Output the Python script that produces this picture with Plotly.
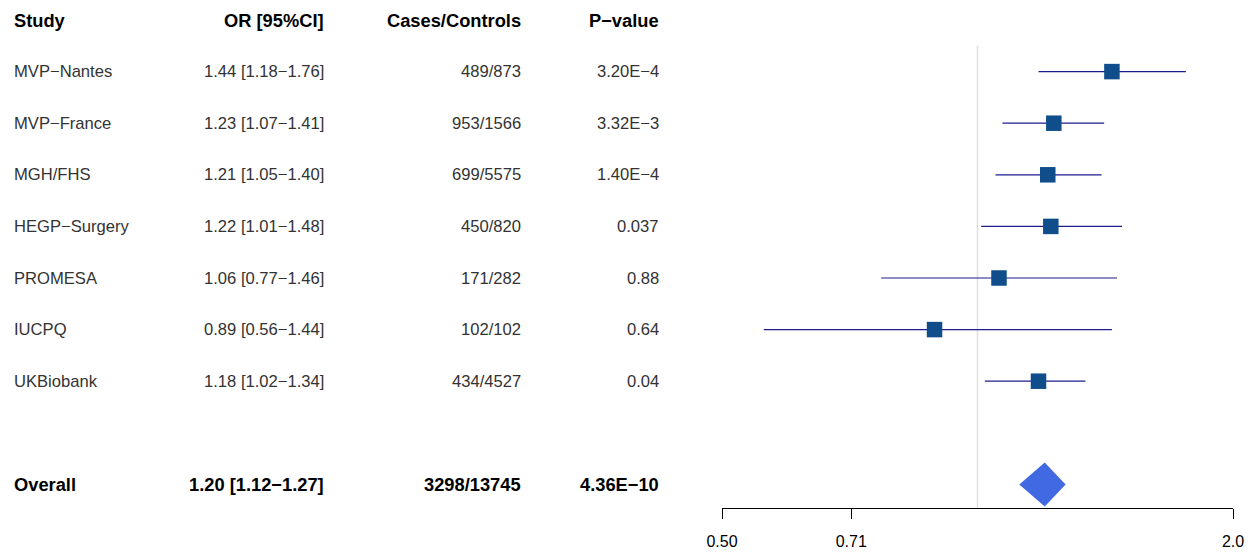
import math
import plotly.graph_objects as go

# ---- data -------------------------------------------------------------
studies = ["MVP\u2212Nantes", "MVP\u2212France", "MGH/FHS", "HEGP\u2212Surgery",
           "PROMESA", "IUCPQ", "UKBiobank"]
odds_ratio = [1.44, 1.23, 1.21, 1.22, 1.06, 0.89, 1.18]
ci_low = [1.18, 1.07, 1.05, 1.01, 0.77, 0.56, 1.02]
ci_high = [1.76, 1.41, 1.40, 1.48, 1.46, 1.44, 1.34]
cases = [489, 953, 699, 450, 171, 102, 434]
controls = [873, 1566, 5575, 820, 282, 102, 4527]
p_values = ["3.20E\u22124", "3.32E\u22123", "1.40E\u22124", "0.037", "0.88", "0.64", "0.04"]

overall_label = "Overall"
overall_or = 1.20
overall_low = 1.12
overall_high = 1.27
overall_cases = 3298
overall_controls = 13745
overall_p = "4.36E\u221210"

headers = ["Study", "OR [95%CI]", "Cases/Controls", "P\u2212value"]
tick_values = [0.50, 0.71, 2.0]
tick_labels = ["0.50", "0.71", "2.0"]

# ---- layout constants -------------------------------------------------
W, H = 1257, 553
FONT = "Liberation Sans, Arial, Helvetica, sans-serif"
TEXT_GREY = "#333333"
BODY_SIZE = 16.6
BOLD_SIZE = 18.3
ROW_PX = 51.6          # vertical distance between rows
TOP_PX = 20            # header row centre
AXIS_PX = 508          # x axis line position
study_rows = list(range(1, len(studies) + 1))
overall_row = len(studies) + 2

y_top = -TOP_PX / ROW_PX
y_bottom = (AXIS_PX - TOP_PX) / ROW_PX

# table column anchors (pixel positions across the page)
col_x = [14, 324, 521, 659]
col_anchor = ["left", "right", "right", "right"]


def fmt_minus(s):
    return s.replace("-", "\u2212")


fig = go.Figure()

# confidence interval lines
cx, cy = [], []
for k, lo, hi in zip(study_rows, ci_low, ci_high):
    cx += [lo, hi, None]
    cy += [k, k, None]
fig.add_trace(go.Scatter(x=cx, y=cy, mode="lines",
                         line=dict(color="#1c1c8c", width=1.2),
                         hoverinfo="skip", showlegend=False))

# point estimates
fig.add_trace(go.Scatter(x=odds_ratio, y=study_rows, mode="markers",
                         marker=dict(symbol="square", size=15.5, color="#104E8B",
                                     line=dict(width=0)),
                         showlegend=False))

# summary diamond
half_h = 22 / ROW_PX
fig.add_trace(go.Scatter(
    x=[overall_low, overall_or, overall_high, overall_or, overall_low],
    y=[overall_row, overall_row - half_h, overall_row, overall_row + half_h, overall_row],
    mode="lines", fill="toself", fillcolor="#4169E1",
    line=dict(color="#4169E1", width=0), hoverinfo="skip", showlegend=False))

# reference line at OR = 1
fig.add_shape(type="line", xref="x", yref="y", x0=1, x1=1,
              y0=0.5, y1=y_bottom, line=dict(color="#e0e0e0", width=1.5),
              layer="below")

# table text
annotations = []


def cell(j, k, text, color, bold=False):
    return dict(x=col_x[j] / W, y=k, xref="paper", yref="y",
                text=f"<b>{text}</b>" if bold else text,
                xanchor=col_anchor[j], yanchor="middle", showarrow=False,
                borderpad=0, borderwidth=0,
                font=dict(family=FONT, size=BOLD_SIZE if bold else BODY_SIZE,
                          color=color))


for j, h in enumerate(headers):
    annotations.append(cell(j, 0, h, "black", bold=True))

for k, name, o, lo, hi, ca, co, p in zip(study_rows, studies, odds_ratio, ci_low,
                                        ci_high, cases, controls, p_values):
    cells = [name,
             fmt_minus(f"{o:.2f} [{lo:.2f}-{hi:.2f}]"),
             f"{ca}/{co}",
             p]
    for j, c in enumerate(cells):
        annotations.append(cell(j, k, c, TEXT_GREY))

overall_cells = [overall_label,
                 fmt_minus(f"{overall_or:.2f} [{overall_low:.2f}-{overall_high:.2f}]"),
                 f"{overall_cases}/{overall_controls}",
                 overall_p]
for j, c in enumerate(overall_cells):
    annotations.append(cell(j, overall_row, c, "black", bold=True))

x_left_px, x_right_px = 722, 1233
fig.update_layout(
    template="none",
    width=W, height=H,
    margin=dict(l=0, r=0, t=0, b=0, autoexpand=False),
    plot_bgcolor="white", paper_bgcolor="white",
    font=dict(family=FONT, size=16, color="black"),
    xaxis=dict(type="log",
               range=[math.log10(tick_values[0]), math.log10(tick_values[-1])],
               domain=[x_left_px / W, x_right_px / W],
               tickmode="array", tickvals=tick_values, ticktext=tick_labels,
               showgrid=False, zeroline=False, showline=True, automargin=False,
               linecolor="black", linewidth=1.3,
               ticks="outside", ticklen=10, tickwidth=1.3, tickcolor="black",
               ticklabelstandoff=9,
               tickfont=dict(family=FONT, size=16, color="black"),
               anchor="y"),
    yaxis=dict(range=[y_bottom, y_top], domain=[(H - AXIS_PX) / H, 1],
               visible=False, showgrid=False, zeroline=False, automargin=False),
    annotations=annotations,
    showlegend=False,
)

fig.write_html("out.html")
